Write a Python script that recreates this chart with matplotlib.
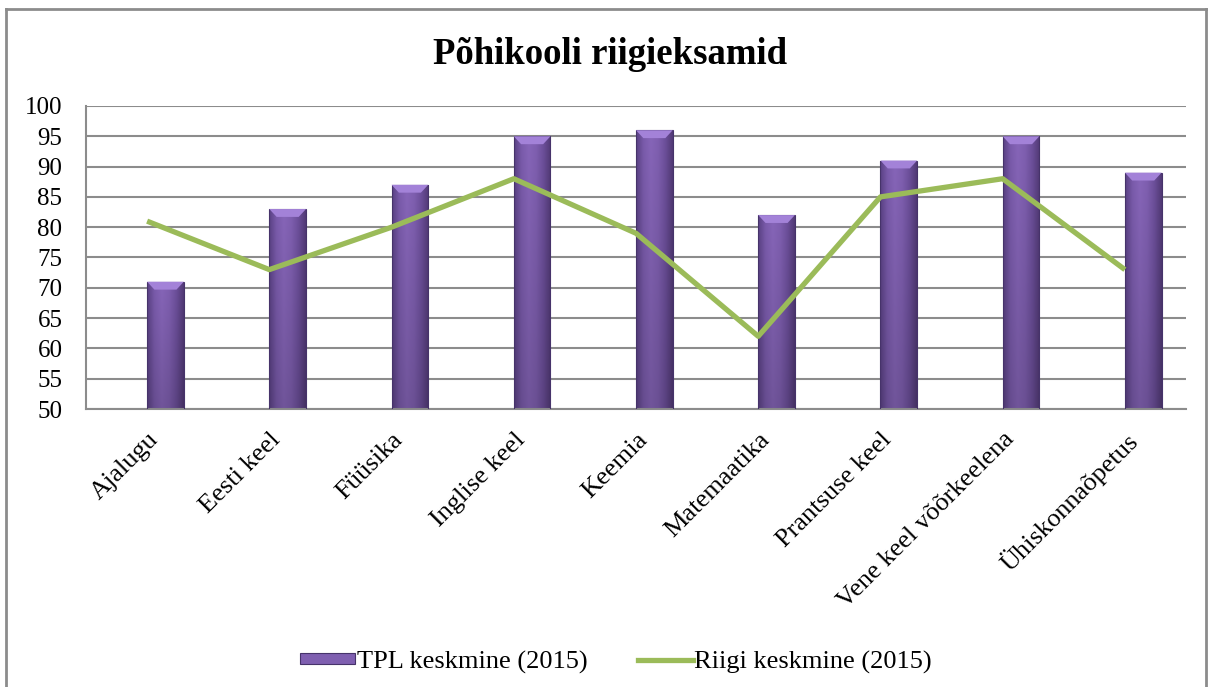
import numpy as np
import matplotlib.pyplot as plt
from matplotlib.patches import Rectangle, Polygon
from matplotlib.lines import Line2D
import matplotlib.colors as mcolors

subjects = ["Ajalugu", "Eesti keel", "Füüsika", "Inglise keel", "Keemia",
            "Matemaatika", "Prantsuse keel", "Vene keel võõrkeelena", "Ühiskonnaõpetus"]
tpl_avg = [71, 83, 87, 95, 96, 82, 91, 95, 89]
state_avg = [81, 73, 80, 88, 79, 62, 85, 88, 73]
y_ticks = list(range(50, 101, 5))

plt.rcParams['font.family'] = ['Liberation Serif', 'DejaVu Serif']

fig = plt.figure(figsize=(12.08, 6.87), dpi=100)
ax = fig.add_axes([86 / 1208, 1 - 409 / 687, 1100 / 1208, 303 / 687])

# outer chart border
fig.add_artist(Line2D([6 / 1208, 6 / 1208], [0, 1 - 9 / 687], transform=fig.transFigure,
                      color="#8c8c8c", lw=2))
fig.add_artist(Line2D([6 / 1208, 1206 / 1208], [1 - 9 / 687, 1 - 9 / 687],
                      transform=fig.transFigure, color="#8c8c8c", lw=2))
fig.add_artist(Line2D([1206 / 1208, 1206 / 1208], [0, 1 - 9 / 687], transform=fig.transFigure,
                      color="#8c8c8c", lw=2))

x = np.arange(len(subjects))
bar_w = 0.3
cmap = mcolors.LinearSegmentedColormap.from_list(
    "bar", ["#5a4184", "#7a5bab", "#8665b8", "#7f5fb0", "#6c4f9a", "#523a76"])
grad = np.tile(np.linspace(0, 1, 64), (32, 1))
shade = np.linspace(0.84, 1.0, 32)[:, None, None]

for xi, h in zip(x, tpl_avg):
    rect = Rectangle((xi, 50), bar_w, h - 50, facecolor="none",
                     edgecolor="#46336a", lw=0.8, zorder=3)
    ax.add_patch(rect)
    rgba = cmap(grad)
    rgba[..., :3] *= shade
    im = ax.imshow(rgba, extent=(xi, xi + bar_w, 50, h), origin="lower",
                   aspect="auto", zorder=2, interpolation="bilinear")
    im.set_clip_path(rect)
    # bevelled top
    bev = 1.3
    ax.add_patch(Polygon([(xi, h), (xi + bar_w, h), (xi + bar_w * 0.8, h - bev),
                          (xi + bar_w * 0.2, h - bev)], closed=True,
                         facecolor="#a382d8", edgecolor="none", zorder=3))

ax.plot(x, state_avg, color="#9bbb59", lw=3.8, zorder=4, solid_capstyle="butt")

ax.set_xlim(-0.5, len(subjects) - 0.5)
ax.set_ylim(50, 100)
ax.set_yticks(y_ticks)
ax.set_yticklabels([str(t) for t in y_ticks], fontsize=18)
ax.set_xticks(x)
ax.set_xticklabels(subjects, fontsize=19, rotation=45, ha="right", va="top",
                   rotation_mode="anchor")
ax.tick_params(axis="both", length=0)
ax.tick_params(axis="x", pad=14)
ax.tick_params(axis="y", pad=17)
ax.grid(axis="y", color="#8c8c8c", lw=1.5)
ax.set_axisbelow(True)
for s in ["top", "right"]:
    ax.spines[s].set_visible(False)
for s in ["left", "bottom"]:
    ax.spines[s].set_color("#8c8c8c")
    ax.spines[s].set_linewidth(1.5)

fig.text(610 / 1208, 1 - 55 / 687, "Põhikooli riigieksamid", fontsize=26.5,
         fontweight="bold", ha="center", va="center")

handles = [Rectangle((0, 0), 1, 1, facecolor="#7f5fb0", edgecolor="#46336a", lw=0.8),
           Line2D([], [], color="#9bbb59", lw=3.8)]
fig.legend(handles, ["TPL keskmine (2015)", "Riigi keskmine (2015)"], loc="center",
           bbox_to_anchor=(616 / 1208, 1 - 662 / 687), ncol=2, frameon=False,
           fontsize=19, handlelength=2.1, handleheight=0.3, handletextpad=0.05,
           columnspacing=1.9)

fig.savefig("out.png", dpi=100)
